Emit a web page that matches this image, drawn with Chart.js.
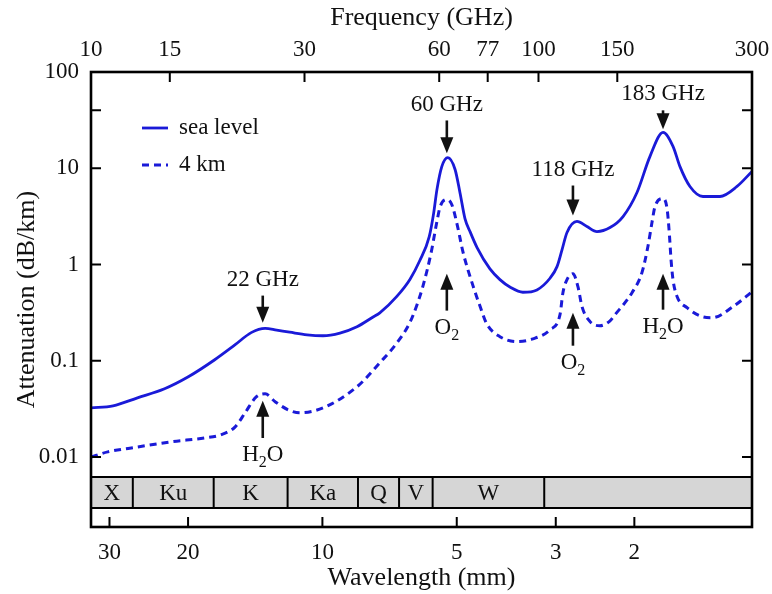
<!DOCTYPE html>
<html>
<head>
<meta charset="utf-8">
<script src="https://cdn.jsdelivr.net/npm/chart.js@4.4.1/dist/chart.umd.min.js"></script>
<style>
  body { margin: 0; background: #fff; }
</style>
</head>
<body>
<canvas id="myChart" width="772" height="594"></canvas>
<script>
// values (frequency in GHz, attenuation in dB/km)
var seaFreq = [10, 11.2, 12.7, 14.6, 16.5, 18.9, 21.0, 22.8, 24.5, 26.0, 27.8, 30.4, 33.0, 36.0, 39.3,
  42.7, 44.2, 48.3, 51.6, 54.3, 57.0, 58.3, 59.3, 60.8, 62.7, 65.1, 66.8, 68.5, 70.3, 72.9,
  77.9, 82.0, 86.5, 92.3, 99.2, 106.1, 110.0, 112.9, 115.8, 121.9, 128.3, 135.1, 144.5, 154.5,
  166.0, 177.5, 189.8, 199.8, 207.1, 218.0, 233.1, 254.4, 277.7, 300];
var seaAtt = [0.0324, 0.034, 0.0412, 0.0512, 0.0682, 0.1025, 0.147, 0.196, 0.217, 0.208, 0.198, 0.186,
  0.182, 0.194, 0.226, 0.285, 0.315, 0.47, 0.70, 1.1, 1.95, 3.4, 6.0, 10.4, 12.9, 9.7, 5.5,
  3.0, 2.2, 1.5, 0.9, 0.697, 0.58, 0.515, 0.545, 0.72, 0.951, 1.43, 2.15, 2.8, 2.48, 2.2, 2.42,
  3.15, 5.6, 13.3, 23.6, 16.9, 10.4, 6.47, 5.09, 5.09, 6.47, 9.27];

var kmFreq = [10, 10.9, 12.7, 15.1, 18.0, 19.5, 21.0, 22.1, 23.4, 24.5, 25.8, 27.6, 29.3, 33.0, 39.3,
  44.2, 48.3, 51.6, 53.5, 55.2, 57.5, 59.3, 60.3, 62.4, 64.0, 65.8, 67.8, 71.4, 74.0, 76.7, 82.0, 89.5,
  97.2, 106.1, 111.7, 113.4, 115.8, 119.4, 122.5, 125.1, 130.4, 137.2, 144.5, 148.2, 161.8, 170.3,
  175.6, 179.3, 182.1, 189.8, 193.8, 196.2, 197.8, 199.8, 204.1, 214.8, 232.0, 244.3, 272.1, 300];
var kmAtt = [0.01, 0.0113, 0.0127, 0.0144, 0.0158, 0.017, 0.0206, 0.0288, 0.0422, 0.0454, 0.0375,
  0.0309, 0.0288, 0.0324, 0.0537, 0.0953, 0.154, 0.25, 0.38, 0.6, 1.3, 2.8, 4.0, 4.73, 4.2, 2.6, 1.35,
  0.6, 0.37, 0.24, 0.178, 0.158, 0.169, 0.21, 0.301, 0.51, 0.697, 0.804, 0.589, 0.365, 0.255, 0.231,
  0.26, 0.3, 0.51, 0.824, 1.54, 2.73, 4.0, 4.85, 3.8, 2.0, 1.12, 0.697, 0.463, 0.356, 0.287, 0.28,
  0.365, 0.522];

var freqTicks = [10, 15, 30, 60, 77, 100, 150, 300];
var waveTicks = [30, 20, 10, 5, 3, 2];
var attTicks = [0.01, 0.1, 1, 10, 40, 100];
var attLabels = ['0.01', '0.1', '1', '10', '', '100'];

var bandEdges = [10, 12.4, 18.8, 27.5, 39.5, 48.8, 58, 103, 300];
var bandNames = ['X', 'Ku', 'K', 'Ka', 'Q', 'V', 'W', ''];

var lineNames = ['22 GHz', '60 GHz', '118 GHz', '183 GHz'];
var lineFreq = [24.2, 62.4, 119.4, 189.8];
var lineTip = [0.248, 14.3, 3.23, 25.4];
var lineText = [0.697, 46, 9.7, 58.6];
var gasNames = ['H2O', 'O2', 'O2', 'H2O'];
var gasTip = [0.0384, 0.804, 0.316, 0.804];
var gasText = [0.0105, 0.221, 0.0955, 0.226];

var BLUE = '#1a1ad8';
var FONT = 'Liberation Serif, Times New Roman, serif';

function pts(xs, ys) {
  var out = [];
  for (var i = 0; i < xs.length; i++) out.push({ x: xs[i], y: ys[i] });
  return out;
}

function arrow(c, x, y0, y1) {
  var dir = y1 > y0 ? 1 : -1;
  c.lineWidth = 2.6;
  c.beginPath();
  c.moveTo(x, y0);
  c.lineTo(x, y1 - dir * 12);
  c.stroke();
  c.beginPath();
  c.moveTo(x, y1);
  c.lineTo(x - 6.5, y1 - dir * 16);
  c.lineTo(x + 6.5, y1 - dir * 16);
  c.closePath();
  c.fill();
}

// formula text with subscript digits (H2O, O2)
function chem(c, txt, x, y) {
  var parts = [];
  for (var i = 0; i < txt.length; i++) {
    parts.push({ t: txt[i], sub: /[0-9]/.test(txt[i]) });
  }
  var w = 0;
  parts.forEach(function (p) {
    c.font = (p.sub ? 16 : 23) + 'px ' + FONT;
    p.w = c.measureText(p.t).width;
    w += p.w;
  });
  var px = x - w / 2;
  c.textAlign = 'left';
  parts.forEach(function (p) {
    c.font = (p.sub ? 16 : 23) + 'px ' + FONT;
    c.fillText(p.t, px, p.sub ? y + 8 : y);
    px += p.w;
  });
}

var decor = {
  id: 'decor',
  afterDraw: function (chart) {
    var c = chart.ctx, a = chart.chartArea;
    var sx = chart.scales.x, sx2 = chart.scales.x2, sy = chart.scales.y;
    c.save();
    c.strokeStyle = '#000';
    c.fillStyle = '#000';

    // band strip
    var bt = a.bottom - 50, bh = 31;
    c.fillStyle = '#d6d6d6';
    c.fillRect(a.left, bt, a.right - a.left, bh);
    c.lineWidth = 2;
    c.strokeRect(a.left, bt, a.right - a.left, bh);
    for (var i = 1; i < bandEdges.length - 1; i++) {
      var ex = sx.getPixelForValue(bandEdges[i]);
      c.beginPath(); c.moveTo(ex, bt); c.lineTo(ex, bt + bh); c.stroke();
    }
    c.fillStyle = '#111';
    c.font = '23px ' + FONT;
    c.textAlign = 'center';
    c.textBaseline = 'middle';
    for (i = 0; i < bandNames.length; i++) {
      var mx = (sx.getPixelForValue(bandEdges[i]) + sx.getPixelForValue(bandEdges[i + 1])) / 2;
      c.fillText(bandNames[i], mx, bt + bh / 2 + 1);
    }

    // frame
    c.lineWidth = 2.6;
    c.strokeRect(a.left, a.top, a.right - a.left, a.bottom - a.top);

    // inward tick marks
    c.lineWidth = 2;
    c.beginPath();
    freqTicks.forEach(function (v) {
      var px = sx.getPixelForValue(v);
      c.moveTo(px, a.top); c.lineTo(px, a.top + 10);
    });
    waveTicks.forEach(function (v) {
      var px = sx2.getPixelForValue(v);
      c.moveTo(px, a.bottom); c.lineTo(px, a.bottom - 10);
    });
    attTicks.forEach(function (v) {
      var py = sy.getPixelForValue(v);
      c.moveTo(a.left, py); c.lineTo(a.left + 10, py);
      c.moveTo(a.right, py); c.lineTo(a.right - 10, py);
    });
    c.stroke();

    // legend
    var ds = chart.data.datasets;
    for (i = 0; i < ds.length; i++) {
      var ly = a.top + 56 + i * 37;
      c.strokeStyle = ds[i].borderColor;
      c.lineWidth = ds[i].borderWidth;
      c.setLineDash(ds[i].borderDash || []);
      c.beginPath(); c.moveTo(a.left + 51, ly); c.lineTo(a.left + 77, ly); c.stroke();
      c.setLineDash([]);
      c.fillStyle = '#111';
      c.font = '23px ' + FONT;
      c.textAlign = 'left';
      c.fillText(ds[i].label, a.left + 88, ly);
    }

    // line annotations
    c.strokeStyle = '#111';
    c.fillStyle = '#111';
    for (i = 0; i < lineNames.length; i++) {
      var ax = sx.getPixelForValue(lineFreq[i]);
      var ty = sy.getPixelForValue(lineText[i]);
      c.font = '23px ' + FONT;
      c.textAlign = 'center';
      c.fillText(lineNames[i], ax, ty);
      arrow(c, ax, ty + 16, sy.getPixelForValue(lineTip[i]));

      var gy = sy.getPixelForValue(gasText[i]);
      chem(c, gasNames[i], ax, gy);
      arrow(c, ax, gy - 17, sy.getPixelForValue(gasTip[i]));
    }
    c.restore();
  }
};

var tickFont = { family: FONT, size: 23 };
var titleFont = { family: FONT, size: 26 };

function noSidePad(s) { s.paddingLeft = 0; s.paddingRight = 0; }

var ctx = document.getElementById('myChart');
var myChart = new Chart(ctx, {
  type: 'line',
  data: {
    datasets: [{
      label: 'sea level',
      data: pts(seaFreq, seaAtt),
      borderColor: BLUE,
      borderWidth: 2.8,
      pointRadius: 0,
      cubicInterpolationMode: 'monotone',
      xAxisID: 'x',
      yAxisID: 'y'
    }, {
      label: '4 km',
      data: pts(kmFreq, kmAtt),
      borderColor: BLUE,
      borderWidth: 3,
      borderDash: [7, 5],
      pointRadius: 0,
      cubicInterpolationMode: 'monotone',
      xAxisID: 'x',
      yAxisID: 'y'
    }]
  },
  options: {
    responsive: false,
    animation: false,
    layout: { padding: { left: 0, right: 20, top: 0, bottom: 0 } },
    plugins: { legend: { display: false }, tooltip: { enabled: false } },
    scales: {
      x: {
        type: 'logarithmic',
        position: 'top',
        min: 10,
        max: 300,
        afterBuildTicks: function (ax) { ax.ticks = freqTicks.map(function (v) { return { value: v }; }); },
        afterFit: function (s) { s.height = 72; noSidePad(s); },
        ticks: { callback: function (v) { return String(v); }, font: tickFont, color: '#111', padding: 8, maxRotation: 0, autoSkip: false },
        grid: { display: false, drawTicks: false },
        border: { display: false },
        title: { display: true, text: 'Frequency (GHz)', font: titleFont, color: '#111', padding: { top: 3, bottom: 0 } }
      },
      x2: {
        type: 'logarithmic',
        position: 'bottom',
        reverse: true,
        min: 1.09,
        max: 33,
        afterBuildTicks: function (ax) { ax.ticks = waveTicks.map(function (v) { return { value: v }; }); },
        afterFit: function (s) { s.height = 67; noSidePad(s); },
        ticks: { callback: function (v) { return String(v); }, font: tickFont, color: '#111', padding: 12, maxRotation: 0, autoSkip: false },
        grid: { display: false, drawTicks: false },
        border: { display: false },
        title: { display: true, text: 'Wavelength (mm)', font: titleFont, color: '#111', padding: { top: 2, bottom: 0 } }
      },
      y: {
        type: 'logarithmic',
        position: 'left',
        min: 0.001875,
        max: 100,
        afterBuildTicks: function (ax) { ax.ticks = attTicks.map(function (v) { return { value: v }; }); },
        afterFit: function (s) { s.width = 91; },
        ticks: {
          callback: function (v, i) { return attLabels[i]; },
          font: tickFont, color: '#111', padding: 12, autoSkip: false
        },
        grid: { display: false, drawTicks: false },
        border: { display: false },
        title: { display: true, text: 'Attenuation (dB/km)', font: titleFont, color: '#111', padding: { top: 12, bottom: 0 } }
      }
    }
  },
  plugins: [decor]
});
</script>
</body>
</html>
